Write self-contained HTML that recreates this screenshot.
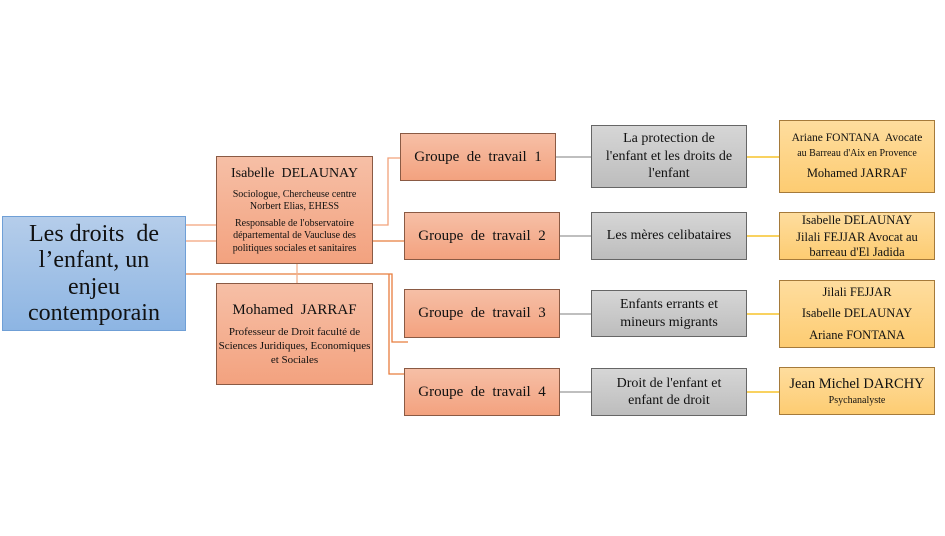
<!DOCTYPE html>
<html><head><meta charset="utf-8"><style>
body{margin:0;width:945px;height:536px;background:#fff;position:relative;overflow:hidden;font-family:"Liberation Serif",serif;color:#111}
.b{position:absolute;box-sizing:border-box;display:flex;flex-direction:column;justify-content:center;align-items:center;text-align:center;line-height:1.25}
.o{background:linear-gradient(#f6bfa6,#f3a27f);border:1px solid #8a5a44}
.g{background:linear-gradient(#d6d6d6,#bdbdbd);border:1px solid #666}
.y{background:linear-gradient(#fedd9e,#fdcc72);border:1px solid #a57a3a}
.l{position:absolute}
p{margin:1px 0}
</style></head><body>
<svg class="l" style="left:0;top:0" width="945" height="536">
<g fill="none" stroke-width="1.3">
<path d="M186 225H216M186 241H216" stroke="#f2a27a"/>
<path d="M373 225H388V158H400" stroke="#f2a27a"/>
<path d="M373 241H404" stroke="#e87d3e"/>
<path d="M186 274H392V342H408" stroke="#e87d3e"/>
<path d="M389 274V374H404" stroke="#e87d3e"/>
<path d="M297 264V283" stroke="#f2b08d"/>
<path d="M556 157H576M576 157H591M560 236H591M560 314H591M560 392H591" stroke="#999"/>
<path d="M747 157H779M747 236H779M747 314H779M747 392H779" stroke="#f5b800"/>
</g></svg>
<div class="b" style="left:2px;top:216px;width:184px;height:115px;background:linear-gradient(#b5cdea,#8db5e3);border:1px solid #6f9fd6;font-size:24px;line-height:1.1">Les droits &nbsp;de<br>l’enfant, un<br>enjeu<br>contemporain</div>
<div class="b o" style="left:216px;top:156px;width:157px;height:108px;font-size:10px"><p style="font-size:14px;margin-bottom:5px">Isabelle &nbsp;DELAUNAY</p><p>Sociologue, Chercheuse centre<br>Norbert Elias, EHESS</p><p style="margin-top:3px">Responsable de l'observatoire départemental de Vaucluse des politiques sociales et sanitaires</p></div>
<div class="b o" style="left:216px;top:283px;width:157px;height:102px;font-size:11px"><p style="font-size:15px;margin-bottom:6px">Mohamed &nbsp;JARRAF</p><p>Professeur de Droit faculté de Sciences Juridiques, Economiques et Sociales</p></div>
<div class="b o" style="left:400px;top:133px;width:156px;height:48px;font-size:15px">Groupe &nbsp;de &nbsp;travail &nbsp;1</div>
<div class="b o" style="left:404px;top:212px;width:156px;height:48px;font-size:15px">Groupe &nbsp;de &nbsp;travail &nbsp;2</div>
<div class="b o" style="left:404px;top:289px;width:156px;height:49px;font-size:15px">Groupe &nbsp;de &nbsp;travail &nbsp;3</div>
<div class="b o" style="left:404px;top:368px;width:156px;height:48px;font-size:15px">Groupe &nbsp;de &nbsp;travail &nbsp;4</div>
<div class="b g" style="left:591px;top:125px;width:156px;height:63px;font-size:14px">La protection de<br>l'enfant et les droits de<br>l'enfant</div>
<div class="b g" style="left:591px;top:212px;width:156px;height:48px;font-size:14px">Les mères celibataires</div>
<div class="b g" style="left:591px;top:290px;width:156px;height:47px;font-size:14px">Enfants errants et<br>mineurs migrants</div>
<div class="b g" style="left:591px;top:368px;width:156px;height:48px;font-size:14px">Droit de l'enfant et<br>enfant de droit</div>
<div class="b y" style="left:779px;top:120px;width:156px;height:73px;font-size:10px"><p style="font-size:11.5px">Ariane FONTANA &nbsp;Avocate</p><p>au Barreau d'Aix en Provence</p><p style="font-size:12.5px;margin-top:5px">Mohamed JARRAF</p></div>
<div class="b y" style="left:779px;top:212px;width:156px;height:48px;font-size:12.5px;line-height:1.15"><p style="margin:0">Isabelle DELAUNAY</p><p style="margin:3px 0 0">Jilali FEJJAR Avocat au barreau d'El Jadida</p></div>
<div class="b y" style="left:779px;top:280px;width:156px;height:68px;font-size:12.5px"><p>Jilali FEJJAR</p><p style="margin-top:5px">Isabelle DELAUNAY</p><p style="margin-top:5px">Ariane FONTANA</p></div>
<div class="b y" style="left:779px;top:367px;width:156px;height:48px;font-size:10px"><p style="font-size:14.5px">Jean Michel DARCHY</p><p>Psychanalyste</p></div>
</body></html>
